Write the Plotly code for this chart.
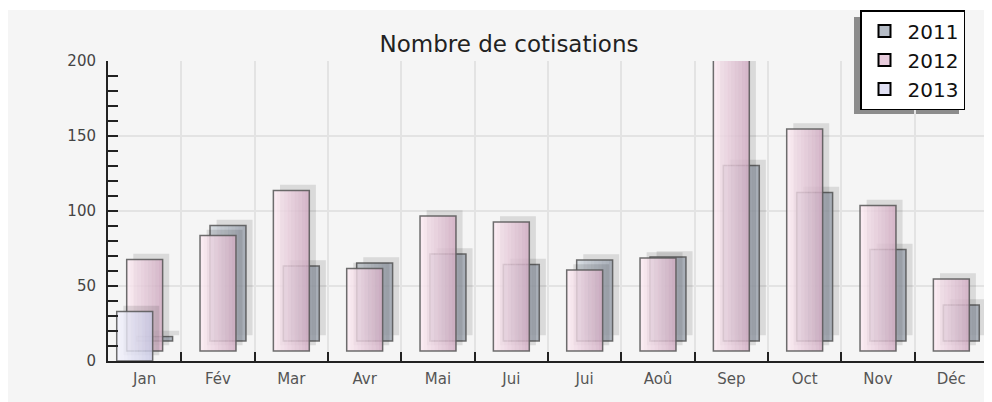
"""
Bar chart of monthly contributions (cotisations) for 2011-2013, drawn in the
pseudo-3D overlay style: each year shifted a little right and up, with a
horizontal gradient fill and a soft shadow.
"""
import plotly.graph_objects as go

months = ['Jan', 'Fév', 'Mar', 'Avr', 'Mai', 'Jui', 'Jui', 'Aoû', 'Sep', 'Oct', 'Nov', 'Déc']
cotis_2011 = [3, 77, 50, 52, 58, 51, 54, 56, 117, 99, 61, 24]
cotis_2012 = [61, 77, 107, 55, 90, 86, 54, 62, 195, 148, 97, 48]
cotis_2013 = [33, None, None, None, None, None, None, None, None, None, None, None]

# drawing order: back to front; shift = how many steps right/up
series = [
    dict(name='2011', values=cotis_2011, shift=2, light=(206, 212, 220), dark=(156, 164, 175)),
    dict(name='2012', values=cotis_2012, shift=1, light=(251, 233, 241), dark=(212, 176, 198)),
    dict(name='2013', values=cotis_2013, shift=0, light=(242, 242, 253), dark=(204, 204, 230)),
]

BAR_W = 0.49
STEP_X = 0.136      # ~10px sideways per series
STEP_Y = 6.7        # ~10px upwards per series
N_STRIPS = 10
ALPHA = 0.82

x_idx = list(range(len(months)))


def mix(c1, c2, t, a):
    r, g, b = [round(c1[k] + (c2[k] - c1[k]) * t) for k in range(3)]
    return f'rgba({r},{g},{b},{a})'


fig = go.Figure()

for s in series:
    off = -BAR_W / 2 + (s['shift'] - 1) * STEP_X
    base = s['shift'] * STEP_Y

    # shadow
    fig.add_trace(go.Bar(
        x=x_idx, y=s['values'], base=base + 3.8, offset=off + 0.09, width=BAR_W,
        marker=dict(color='rgba(0,0,0,0.11)', line=dict(width=0)),
        showlegend=False, hoverinfo='skip', cliponaxis=False,
    ))
    # gradient strips
    for i in range(N_STRIPS):
        t = i / (N_STRIPS - 1)
        fig.add_trace(go.Bar(
            x=x_idx, y=s['values'], base=base, offset=off + i * BAR_W / N_STRIPS,
            width=BAR_W / N_STRIPS + 0.004,
            marker=dict(color=mix(s['light'], s['dark'], t, ALPHA), line=dict(width=0)),
            showlegend=False, hoverinfo='skip', cliponaxis=False,
        ))
    # outline
    fig.add_trace(go.Bar(
        x=x_idx, y=s['values'], base=base, offset=off, width=BAR_W,
        marker=dict(color='rgba(0,0,0,0)', line=dict(color='rgba(85,85,85,0.85)', width=1.5)),
        name=s['name'], showlegend=False, cliponaxis=False,
    ))
    # legend entry
    fig.add_trace(go.Bar(
        x=[0], y=[None], name=s['name'],
        marker=dict(color=mix(s['light'], s['dark'], 0.5, 1), line=dict(color='black', width=2)),
        showlegend=True,
    ))

# the page adds an 8px body margin, so the figure is laid out 8px up/left
fig.update_layout(
    width=992, height=402,
    barmode='overlay',
    paper_bgcolor='white',
    plot_bgcolor='rgba(0,0,0,0)',
    margin=dict(l=100, r=12, t=53, b=49, autoexpand=False),
    font=dict(family='DejaVu Sans', color='#333'),
    title=dict(text='Nombre de cotisations', x=501 / 992, xref='container', xanchor='center',
               y=1 - 36 / 402, yref='container', yanchor='middle',
               font=dict(size=23, color='#222')),
    legend=dict(x=852 / 992, y=1 - 2 / 402, xref='container', yref='container',
                xanchor='left', yanchor='top',
                bgcolor='white', bordercolor='black', borderwidth=1.5,
                font=dict(size=20, color='#111'), tracegroupgap=0,
                itemwidth=36),
    shapes=[
        # grey chart area
        dict(type='rect', xref='paper', yref='paper', layer='below',
             x0=(8 - 108) / 880, x1=(1000 - 108) / 880, y0=(361 - 410) / 300, y1=(361 - 10) / 300,
             fillcolor='#f5f5f5', line=dict(width=0)),
        # legend shadow
        dict(type='rect', xref='paper', yref='paper', layer='below',
             x0=(854 - 108) / 880, x1=(959 - 108) / 880, y0=(361 - 114) / 300, y1=(361 - 17) / 300,
             fillcolor='#8c8c8c', line=dict(width=0)),
    ],
)

fig.update_xaxes(
    type='linear', range=[-0.5, 11.5],
    tickmode='array', tickvals=x_idx, ticktext=months,
    showgrid=False, showline=True, linecolor='#222', linewidth=2,
    ticks='inside', ticklen=0, tickfont=dict(size=15, color='#555'), ticklabelstandoff=3,
    minor=dict(tickmode='array', tickvals=[i + 0.5 for i in range(-1, 12)], ticks='inside',
               ticklen=9, tickcolor='#222', tickwidth=2, showgrid=True, gridcolor='#e3e3e3',
               gridwidth=1.5),
    zeroline=False,
)
fig.update_yaxes(
    range=[0, 200], dtick=50, showgrid=True, gridcolor='#e3e3e3', gridwidth=1.5,
    showline=True, linecolor='#222', linewidth=2,
    ticks='inside', ticklen=10, tickcolor='#222', tickwidth=2,
    minor=dict(dtick=10, ticks='inside', ticklen=10, tickcolor='#222', tickwidth=2, showgrid=False),
    tickfont=dict(size=15, color='#444'), ticklabelstandoff=7,
    zeroline=False,
)

fig.write_html("out.html")
